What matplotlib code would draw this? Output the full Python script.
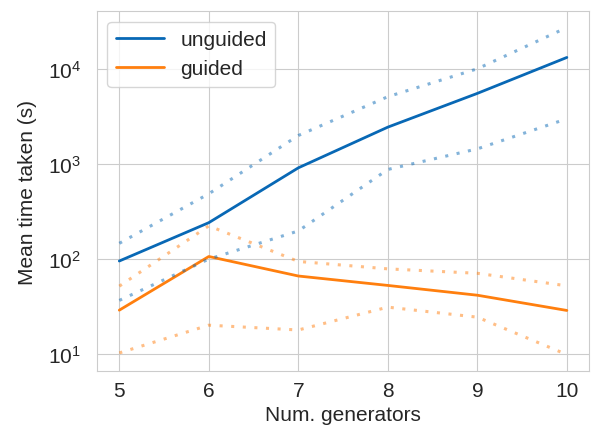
import matplotlib
matplotlib.use("Agg")
import matplotlib.pyplot as plt
import seaborn as sns

sns.set_style("whitegrid")
plt.rcParams['font.family'] = ['Liberation Sans', 'DejaVu Sans']

# data
generators = [5, 6, 7, 8, 9, 10]
unguided_mean = [95, 241, 912, 2450, 5560, 13300]
unguided_hi = [146, 486, 2000, 5130, 10100, 27500]
unguided_lo = [36.5, 99.5, 197, 877, 1445, 3000]
guided_mean = [28.8, 106, 66, 52.5, 41.4, 28.6]
guided_hi = [51.6, 223, 94, 78.5, 70.5, 52]
guided_lo = [10.2, 20, 17.8, 31, 24.3, 9.8]

blue = '#0868b5'
orange = '#ff7f0e'

fig, ax = plt.subplots(figsize=(5.91, 4.35), dpi=100)
ax.plot(generators, unguided_mean, color=blue, lw=2, label='unguided')
ax.plot(generators, guided_mean, color=orange, lw=2, label='guided')
for ys, c in [(unguided_hi, blue), (unguided_lo, blue),
              (guided_hi, orange), (guided_lo, orange)]:
    ax.plot(generators, ys, color=c, lw=2.2, ls=(0, (1, 2.8)), alpha=0.5)

ax.set_yscale('log')
ax.set_xlabel('Num. generators', fontsize=15)
ax.set_ylabel('Mean time taken (s)', fontsize=15, labelpad=8)
ax.tick_params(labelsize=15)
ax.tick_params(axis='y', pad=8)
ax.legend(loc='upper left', fontsize=15, handlelength=2.3)

fig.subplots_adjust(left=0.164, right=0.997, bottom=0.145, top=0.972)
fig.savefig('out.png')
